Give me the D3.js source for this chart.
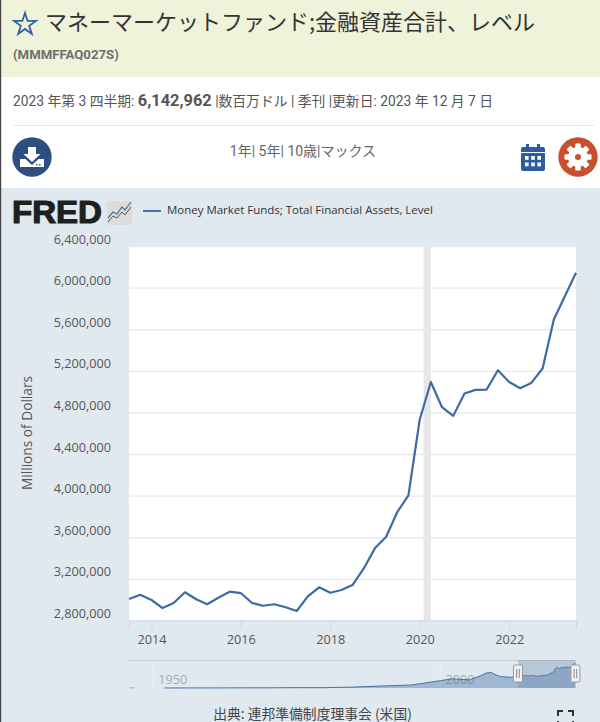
<!DOCTYPE html>
<html><head><meta charset="utf-8">
<script src="https://cdnjs.cloudflare.com/ajax/libs/d3/7.8.5/d3.min.js"></script>
<style>html,body{margin:0;padding:0;background:#fff;overflow:hidden}svg{display:block}
text{font-family:"Open Sans","Noto Sans CJK JP",sans-serif}</style></head><body><svg id="c" width="600" height="722"></svg>
<script>
const seriesName = "Money Market Funds; Total Financial Assets, Level";
const startDate = [2013, 6, 1];
const endDate = [2023, 6, 1];
const values = [3006000,3048000,2997000,2920000,2968000,3071000,3004000,2956000,3019000,3077000,3064000,2968000,2942000,2956000,2927000,2891000,3032000,3119000,3067000,3093000,3141000,3300000,3496000,3602000,3841000,4002000,4730000,5093000,4850000,4767000,4982000,5017000,5020000,5206000,5093000,5033000,5084000,5222000,5693000,5917000,6142962];
const yTicks = [2800000,3200000,3600000,4000000,4400000,4800000,5200000,5600000,6000000,6400000];
const xTickYears = [2014,2016,2018,2020,2022];
const recession = [[2020,1,1],[2020,3,1]];
const navEarlyYears = [1952,1960,1970,1975,1980,1985,1990,1995,2000,2002,2005,2007,2008,2008.9,2009.5,2010.5,2012,2013.25];
const navEarlyValues = [5000,20000,40000,80000,76000,240000,500000,740000,1800000,2250000,2000000,3000000,3700000,3800000,3300000,2800000,2650000,2700000];
const navStub = [[1945.8,1946.7],[20000,20000]];
const navTickYears = [1950,2000];
const navSelection = [2013.5,2023.5];

const svg = d3.select("#c");
const quarters = d3.timeMonth.range(new Date(...startDate), d3.timeMonth.offset(new Date(...endDate),1), 3);
const rows = quarters.map((d,i)=>({d,v:values[i]}));

// header
svg.append("rect").attr("width",600).attr("height",77).attr("fill","#eff3d9");
svg.append("rect").attr("y",188).attr("width",600).attr("height",534).attr("fill","#e1e9f0");
svg.append("path").attr("d",d3.symbol(d3.symbolStar,150)()).attr("transform","translate(25,24.5)")
  .attr("fill","none").attr("stroke","#2f62a8").attr("stroke-width",1.8);
svg.append("text").attr("x",45).attr("y",29.5).attr("font-size",22).attr("fill","#333")
  .style("font-family",'"Noto Sans CJK JP"').text("マネーマーケットファンド;金融資産合計、レベル");
svg.append("text").attr("x",13).attr("y",59).attr("font-size",13.2).attr("font-weight",700).attr("fill","#6f6f6f")
  .style("font-family",'Roboto').text("(MMMFFAQ027S)");
const info = svg.append("text").attr("x",13).attr("y",106).attr("font-size",13.8).attr("fill","#555")
  .style("font-family",'Roboto,"Noto Sans CJK JP"');
info.append("tspan").text("2023 年第 3 四半期: ");
info.append("tspan").attr("font-weight",700).attr("font-size",16.4).text("6,142,962");
info.append("tspan").text(" |数百万ドル | 季刊 |更新日: 2023 年 12 月 7 日");
svg.append("line").attr("x1",13).attr("x2",594).attr("y1",125.5).attr("y2",125.5).attr("stroke","#e1e9f0").attr("stroke-width",1.2);
svg.append("text").attr("x",303).attr("y",156).attr("text-anchor","middle").attr("font-size",14).attr("fill","#666")
  .style("font-family",'Roboto,"Noto Sans CJK JP"').text("1年| 5年| 10歳|マックス");

// download icon
const dl = svg.append("g").attr("transform","translate(32,157)");
dl.append("circle").attr("r",19.7).attr("fill","#2f4d7e");
dl.append("path").attr("d","M-4,-10H4V-3H8.5L0,5L-8.5,-3H-4Z").attr("fill","#fff");
dl.append("path").attr("d","M-12,2H-6.5L0,8L6.5,2H12V10H-12Z").attr("fill","#fff");
dl.append("rect").attr("x",4).attr("y",7).attr("width",1.5).attr("height",1.5).attr("fill","#2f4d7e");
dl.append("rect").attr("x",7).attr("y",7).attr("width",1.5).attr("height",1.5).attr("fill","#2f4d7e");
// calendar icon
const cal = svg.append("g").attr("transform","translate(521,143)").attr("fill","#2d5c9f");
cal.append("path").attr("d","M0,6a2,2 0 0 1 2,-2H22a2,2 0 0 1 2,2V9H0Z");
cal.append("path").attr("d","M0,10H24V26a2,2 0 0 1 -2,2H2a2,2 0 0 1 -2,-2Z");
cal.append("rect").attr("x",5).attr("y",1).attr("width",3).attr("height",6);
cal.append("rect").attr("x",16).attr("y",1).attr("width",3).attr("height",6);
[0,1,2].forEach(c=>[0,1].forEach(r=>cal.append("rect").attr("x",4+c*6.2).attr("y",13+r*6.5).attr("width",3.6).attr("height",3.8).attr("fill","#fff")));
// gear icon
const gear = svg.append("g").attr("transform","translate(578,157)");
gear.append("circle").attr("r",19.7).attr("fill","#c9502f");
d3.range(8).forEach(i=>gear.append("rect").attr("x",-2.8).attr("y",-13.5).attr("width",5.6).attr("height",6).attr("rx",1).attr("fill","#fff").attr("transform",`rotate(${i*45})`));
gear.append("circle").attr("r",6.5).attr("fill","none").attr("stroke","#fff").attr("stroke-width",7);

// FRED logo
svg.append("text").attr("x",12).attr("y",223).attr("font-size",32).attr("font-weight",700).attr("fill","#1f1f1f")
  .attr("stroke","#1f1f1f").attr("stroke-width",1.2).attr("textLength",90).attr("lengthAdjust","spacingAndGlyphs")
  .style("font-family",'"Liberation Sans"').text("FRED");
const ic = svg.append("g").attr("transform","translate(107,201)");
ic.append("rect").attr("width",25).attr("height",24).attr("fill","#dcdcdc").attr("rx",1);
ic.append("polyline").attr("points","1,21 6,15 10,17 15,11 18,14 24,6").attr("fill","none").attr("stroke","#555").attr("stroke-width",1);
ic.append("polyline").attr("points","1,17 6,11 10,13 15,6 18,9 24,1").attr("fill","none").attr("stroke","#4572a7").attr("stroke-width",1.2);
// legend
svg.append("line").attr("x1",143).attr("x2",161).attr("y1",211).attr("y2",211).attr("stroke","#4572a7").attr("stroke-width",2);
svg.append("text").attr("x",167).attr("y",214).attr("font-size",11.48).attr("fill","#333").text(seriesName);

// main chart
const x = d3.scaleTime().domain([new Date(...startDate),new Date(...endDate)]).range([129,576]);
const y = d3.scaleLinear().domain([2800000,6400000]).range([620.5,246]);
svg.append("rect").attr("x",129).attr("y",246).attr("width",447).attr("height",374.5).attr("fill","#fff");
svg.append("rect").attr("x",x(new Date(...recession[0]))).attr("y",246)
  .attr("width",x(new Date(...recession[1]))-x(new Date(...recession[0]))).attr("height",374.5).attr("fill","#e6e6e6");
const gy = svg.append("g").attr("transform","translate(129,0)")
  .call(d3.axisLeft(y).tickValues(yTicks).tickFormat(d3.format(",")).tickSize(-447));
gy.select(".domain").remove();
gy.selectAll("line").attr("stroke","#e9e9e9").attr("stroke-width",1.4);
gy.selectAll("text").attr("x",-18).attr("dy",-3).attr("font-size",12.7).attr("fill","#555");
gy.selectAll("text").style("font-family",'"Open Sans"');
const gx = svg.append("g").attr("transform","translate(0,620.5)")
  .call(d3.axisBottom(x).tickValues(xTickYears.map(t=>new Date(t,0,1))).tickFormat(d3.timeFormat("%Y")).tickSize(9));
gx.select(".domain").attr("stroke","#ccd6eb");
gx.selectAll("line").attr("stroke","#ccd6eb");
gx.selectAll("text").attr("y",14).attr("font-size",12.7).attr("fill","#555");
svg.append("text").attr("transform","translate(31.5,433) rotate(-90)").attr("text-anchor","middle").attr("font-size",13.7).attr("fill","#555").text("Millions of Dollars");
const line = d3.line().x(d=>x(d.d)).y(d=>y(d.v));
svg.append("path").datum(rows).attr("d",line).attr("fill","none").attr("stroke","#3d6ba5").attr("stroke-width",2.2).attr("stroke-linejoin","round");

// navigator
const nx = d3.scaleLinear().domain([1945.8,2023.6]).range([129,576]);
const ny = d3.scaleLinear().domain([0,6142962]).range([688,663]);
const navRows = navEarlyYears.map((t,i)=>({t,v:navEarlyValues[i]}))
  .concat(rows.map(r=>({t:r.d.getFullYear()+r.d.getMonth()/12,v:r.v})));
svg.append("line").attr("x1",129).attr("x2",576).attr("y1",660.5).attr("y2",660.5).attr("stroke","#cfcfcf").attr("stroke-width",1);
navTickYears.forEach(t=>{
  svg.append("line").attr("x1",nx(t)).attr("x2",nx(t)).attr("y1",661).attr("y2",688).attr("stroke","#e9eef3");
  svg.append("text").attr("x",nx(t)+5).attr("y",684).attr("font-size",12.7).attr("fill","#aaa").text(t);
});
svg.append("path").datum(navRows).attr("d",d3.area().x(d=>nx(d.t)).y0(688).y1(d=>ny(d.v)))
  .attr("fill","#4572a7").attr("fill-opacity",.42);
svg.append("path").datum(navRows).attr("d",d3.line().x(d=>nx(d.t)).y(d=>ny(d.v)))
  .attr("fill","none").attr("stroke","#4572a7").attr("stroke-width",1);
svg.append("line").attr("x1",nx(navStub[0][0])).attr("x2",nx(navStub[0][1])).attr("y1",ny(navStub[1][0])).attr("y2",ny(navStub[1][1])).attr("stroke","#8fb0d8").attr("stroke-width",1);
const s0=nx(navSelection[0]), s1=nx(navSelection[1]);
svg.append("rect").attr("x",s0).attr("y",660).attr("width",s1-s0).attr("height",28).attr("fill","#6685a6").attr("fill-opacity",.33);
[s0,s1].forEach(sx=>{
  const h=svg.append("g").attr("transform",`translate(${sx},0)`);
  h.append("rect").attr("x",-4.5).attr("y",665).attr("width",9).attr("height",17).attr("rx",1).attr("fill","#f2f2f2").attr("stroke","#999");
  [-1.3,1.3].forEach(o=>h.append("line").attr("x1",o).attr("x2",o).attr("y1",669).attr("y2",678).attr("stroke","#888"));
});

// footer
svg.append("text").attr("x",312.5).attr("y",718.5).attr("text-anchor","middle").attr("font-size",13.8).attr("fill","#444")
  .style("font-family",'"Noto Sans CJK JP"').text("出典: 連邦準備制度理事会 (米国)");
svg.append("path").attr("d","M558,716V711H563M568,711H573V716M573,721V726H568M563,726H558V721").attr("fill","none").attr("stroke","#333").attr("stroke-width",2);
svg.append("rect").attr("width",1.2).attr("height",722).attr("fill","#444");
</script></body></html>
